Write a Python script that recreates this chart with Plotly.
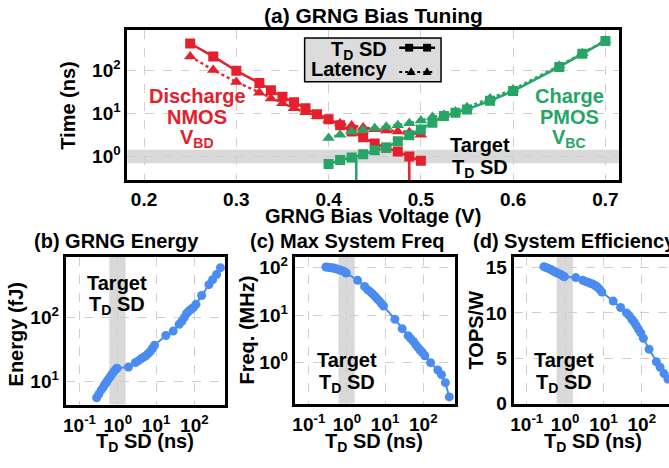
import plotly.graph_objects as go

# ---------------- data: panel (a) ----------------
v_nmos = [0.25, 0.275, 0.30, 0.325, 0.3375, 0.35, 0.3625, 0.375, 0.3875, 0.40,
          0.4125, 0.425, 0.4375, 0.45, 0.4625, 0.475, 0.4875, 0.50]
sd_nmos = [410, 206, 96, 50, 34, 24, 18, 13, 9.5, 7.3,
           5.3, 3.8, 2.8, 2.0, 1.6, 1.3, 1.0, 0.8]
lat_nmos = [206, 100, 53, 30, 22, 17, 13, 10.6, 8.5, 7.0,
            5.8, 5.2, 4.7, 4.3, 4.0, 3.8, 3.65, 3.2]

v_pmos = [0.40, 0.4125, 0.425, 0.4375, 0.45, 0.4625, 0.475, 0.4875, 0.50,
          0.5125, 0.525, 0.5375, 0.55, 0.575, 0.60, 0.65, 0.675, 0.70]
sd_pmos = [0.67, 0.83, 0.95, 1.13, 1.39, 1.62, 2.25, 3.1, 4.2,
           6.0, 8.6, 10.3, 12.3, 19.5, 32.5, 118, 236, 470]
lat_pmos = [2.7, 3.2, 3.8, 4.1, 4.5, 4.9, 5.3, 5.9, 6.8,
            8.2, 9.3, 11, 13.8, 22, 35.5, 125, 245, 480]

target_sd = 1.0
target_v_pmos = 0.43
target_v_nmos = 0.4875
target_band = [0.7, 1.43]

# ---------------- data: panels (b)-(d) ----------------
sd_sweep = [0.28, 0.32, 0.37, 0.42, 0.46, 0.51, 0.56, 0.63, 0.71, 0.8, 0.9, 0.96,
            1.9, 2.9, 3.5, 4.1, 4.7, 5.4, 6.2, 7.0, 8.0, 9.1, 18, 28, 40, 47, 55,
            63, 72, 82, 94, 110, 155, 240, 300, 380, 480]
energy_fj = [5.5, 6.3, 7.3, 8.1, 8.9, 9.7, 10.6, 11.7, 13, 14.3, 15.5, 16,
             16.7, 19.6, 21, 22.6, 23.8, 25, 27, 29, 32.5, 36.6, 52, 61, 78, 87, 100,
             116, 126, 134, 142, 160, 220, 325, 390, 470, 600]
freq_mhz = [103, 102, 100, 99, 97, 95, 93, 90, 87, 85, 80, 77,
            54, 40, 34, 31, 28, 25, 22, 20, 17.5, 15.5, 8.2, 5.2, 3.7, 3.2, 2.8,
            2.4, 2.1, 1.85, 1.65, 1.4, 1.0, 0.7, 0.56, 0.38, 0.19]
tops_w = [15.1, 15.0, 14.9, 14.8, 14.7, 14.6, 14.5, 14.4, 14.3, 14.2, 14.05, 14.0,
          13.9, 13.6, 13.45, 13.35, 13.25, 13.15, 13.0, 12.85, 12.6, 12.3, 11.3, 10.6, 10.0, 9.7, 9.3,
          9.0, 8.6, 8.2, 7.8, 7.2, 6.0, 4.6, 4.0, 3.3, 2.7]
sd_band = [0.6, 1.6]

x_ticks_a = [0.2, 0.3, 0.4, 0.5, 0.6, 0.7]
log_ticks = [0.1, 1, 10, 100]
log_ticktext = ["10<sup>-1</sup>", "10<sup>0</sup>", "10<sup>1</sup>", "10<sup>2</sup>"]

RED = "#e3202b"
GREEN = "#26a566"
BLUE = "#4a8cf0"
FONT = "Liberation Sans, Arial, sans-serif"
TICK = 19
TXT = 20

W, H = 669, 468
def fx(p): return p / W
def fy(p): return 1 - p / H

fig = go.Figure()

# panel a traces
fig.add_trace(go.Scatter(x=v_nmos, y=sd_nmos, mode="lines+markers",
                         line=dict(color=RED, width=2.5), marker=dict(symbol="square", size=10, color=RED),
                         xaxis="x", yaxis="y", showlegend=False))
fig.add_trace(go.Scatter(x=v_nmos, y=lat_nmos, mode="lines+markers",
                         line=dict(color=RED, width=2.5, dash="dot"), marker=dict(symbol="triangle-up", size=11, color=RED),
                         xaxis="x", yaxis="y", showlegend=False))
fig.add_trace(go.Scatter(x=v_pmos, y=sd_pmos, mode="lines+markers",
                         line=dict(color=GREEN, width=2.5), marker=dict(symbol="square", size=10, color=GREEN),
                         xaxis="x", yaxis="y", showlegend=False))
fig.add_trace(go.Scatter(x=v_pmos, y=lat_pmos, mode="lines+markers",
                         line=dict(color=GREEN, width=2.5, dash="dot"), marker=dict(symbol="triangle-up", size=11, color=GREEN),
                         xaxis="x", yaxis="y", showlegend=False))
fig.add_trace(go.Scatter(x=[target_v_pmos, target_v_pmos], y=[target_sd, 0.1], mode="lines",
                         line=dict(color=GREEN, width=2.5), xaxis="x", yaxis="y", showlegend=False))
fig.add_trace(go.Scatter(x=[target_v_nmos, target_v_nmos], y=[target_sd, 0.1], mode="lines",
                         line=dict(color=RED, width=2.5), xaxis="x", yaxis="y", showlegend=False))

# panels b-d
for ys, xa, ya in [(energy_fj, "x2", "y2"), (freq_mhz, "x3", "y3"), (tops_w, "x4", "y4")]:
    fig.add_trace(go.Scatter(x=sd_sweep, y=ys, mode="lines+markers",
                             line=dict(color=BLUE, width=2), marker=dict(symbol="circle", size=9, color=BLUE),
                             xaxis=xa, yaxis=ya, showlegend=False))

grid = dict(showgrid=True, gridcolor="#cfcfcf", griddash="dash", gridwidth=1)
frame = dict(showline=True, linecolor="black", linewidth=3, mirror=True, zeroline=False, ticks="",
             tickfont=dict(size=TICK, family=FONT, color="black", weight="bold"))
bx = dict(type="log", tickvals=log_ticks, ticktext=log_ticktext, ticklabelstandoff=2)

fig.update_layout(
    width=W, height=H, margin=dict(l=0, r=0, t=0, b=0),
    plot_bgcolor="white", paper_bgcolor="white",
    font=dict(family=FONT, size=TICK, color="black", weight="bold"),
    xaxis=dict(domain=[fx(125), fx(619)], range=[0.182, 0.715], anchor="y",
               tickvals=x_ticks_a, ticktext=[f"{v:.1f}" for v in x_ticks_a], **grid, **frame),
    yaxis=dict(domain=[fy(183), fy(29)], type="log", range=[-0.54, 2.92], anchor="x",
               tickvals=[1, 10, 100], ticktext=["10<sup>0</sup>", "10<sup>1</sup>", "10<sup>2</sup>"],
               **grid, **frame),
    xaxis2=dict(domain=[fx(63), fx(223)], range=[-1.36, 2.8], anchor="y2", **bx, **grid, **frame),
    yaxis2=dict(domain=[fy(414), fy(262)], type="log", range=[0.635, 2.95], anchor="x2",
                tickvals=[10, 100], ticktext=["10<sup>1</sup>", "10<sup>2</sup>"], **grid, **frame),
    xaxis3=dict(domain=[fx(293), fx(454)], range=[-1.37, 2.83], anchor="y3", **bx, **grid, **frame),
    yaxis3=dict(domain=[fy(413), fy(262)], type="log", range=[-0.86, 2.23], anchor="x3",
                tickvals=[1, 10, 100], ticktext=["10<sup>0</sup>", "10<sup>1</sup>", "10<sup>2</sup>"],
                **grid, **frame),
    xaxis4=dict(domain=[fx(513), 1.0], range=[-1.34, 2.71], anchor="y4", **bx, **grid, **frame),
    yaxis4=dict(domain=[fy(413), fy(262)], range=[0, 16.2], anchor="x4",
                tickvals=[0, 5, 10, 15], **grid,
                **{k: v for k, v in frame.items() if k != "mirror"}, mirror=False),
)

shapes = []
band_fill = "rgba(185,185,185,0.55)"
shapes.append(dict(type="rect", xref="x domain", yref="y", x0=0, x1=1, y0=target_band[0], y1=target_band[1],
                   fillcolor=band_fill, line=dict(width=0), layer="below"))
for xa, ya in [("x2", "y2"), ("x3", "y3"), ("x4", "y4")]:
    shapes.append(dict(type="rect", xref=xa, yref=f"{ya} domain", x0=sd_band[0], x1=sd_band[1], y0=0, y1=1,
                       fillcolor=band_fill, line=dict(width=0), layer="below"))
# legend box
shapes.append(dict(type="rect", xref="paper", yref="paper", x0=fx(303), x1=fx(440), y0=fy(82), y1=fy(37),
                   fillcolor="#dcdcdc", line=dict(color="black", width=1.5), layer="above"))
# legend samples
shapes.append(dict(type="line", xref="paper", yref="paper", x0=fx(398), x1=fx(434), y0=fy(47), y1=fy(47),
                   line=dict(color="black", width=2.5), layer="above"))
for cx in (408, 426):
    shapes.append(dict(type="rect", xref="paper", yref="paper", x0=fx(cx - 4), x1=fx(cx + 4),
                       y0=fy(51), y1=fy(43), fillcolor="black", line=dict(width=0), layer="above"))
shapes.append(dict(type="line", xref="paper", yref="paper", x0=fx(398), x1=fx(434), y0=fy(72), y1=fy(72),
                   line=dict(color="black", width=2, dash="dot"), layer="above"))
for cx in (410, 426):
    shapes.append(dict(type="path", xref="paper", yref="paper",
                       path=f"M {fx(cx-4.5)} {fy(75)} L {fx(cx+4.5)} {fy(75)} L {fx(cx)} {fy(67)} Z",
                       fillcolor="black", line=dict(width=0), layer="above"))
fig.update_layout(shapes=shapes)

ann = []
def A(text, x, y, size=TXT, color="black", xanchor="center", yanchor="middle", angle=0):
    ann.append(dict(text=text, x=fx(x), y=fy(y), xref="paper", yref="paper", showarrow=False,
                    xanchor=xanchor, yanchor=yanchor, textangle=angle,
                    font=dict(size=size, color=color, family=FONT, weight="bold")))

A("(a) GRNG Bias Tuning", 372, 14, size=21)
A("(b) GRNG Energy", 114, 246)
A("(c) Max System Freq", 346, 246)
A("(d) System Efficiency", 470, 246, xanchor="left")
A("GRNG Bias Voltage (V)", 372, 220)
for cx in (143, 373, 593):
    A("T<sub>D</sub> SD (ns)", cx, 468, yanchor="bottom")
A("Time (ns)", 65, 106, angle=-90)
A("Energy (fJ)", 13, 342, angle=-90)
A("Freq. (MHz)", 245, 337, angle=-90)
A("TOPS/W", 475, 337, angle=-90)
# discharge / charge labels
for txt, y in [("Discharge", 97), ("NMOS", 118), ("V<sub>BD</sub>", 140)]:
    A(txt, 195, y, color=RED)
for txt, y in [("Charge", 97), ("PMOS", 118), ("V<sub>BC</sub>", 140)]:
    A(txt, 569, y, color=GREEN)
# target labels
for cx, y1, y2 in [(479, 147, 171), (115, 289, 312), (346, 368, 392), (564, 368, 392)]:
    A("Target", cx, y1)
    A("T<sub>D</sub> SD", cx, y2)
A("T<sub>D</sub> SD", 388, 50, xanchor="right")
A("Latency", 388, 69, xanchor="right")
fig.update_layout(annotations=ann)

fig.write_html("out.html", config={"displayModeBar": False},
               post_script="document.body.style.margin='0';document.body.style.overflow='hidden';")
